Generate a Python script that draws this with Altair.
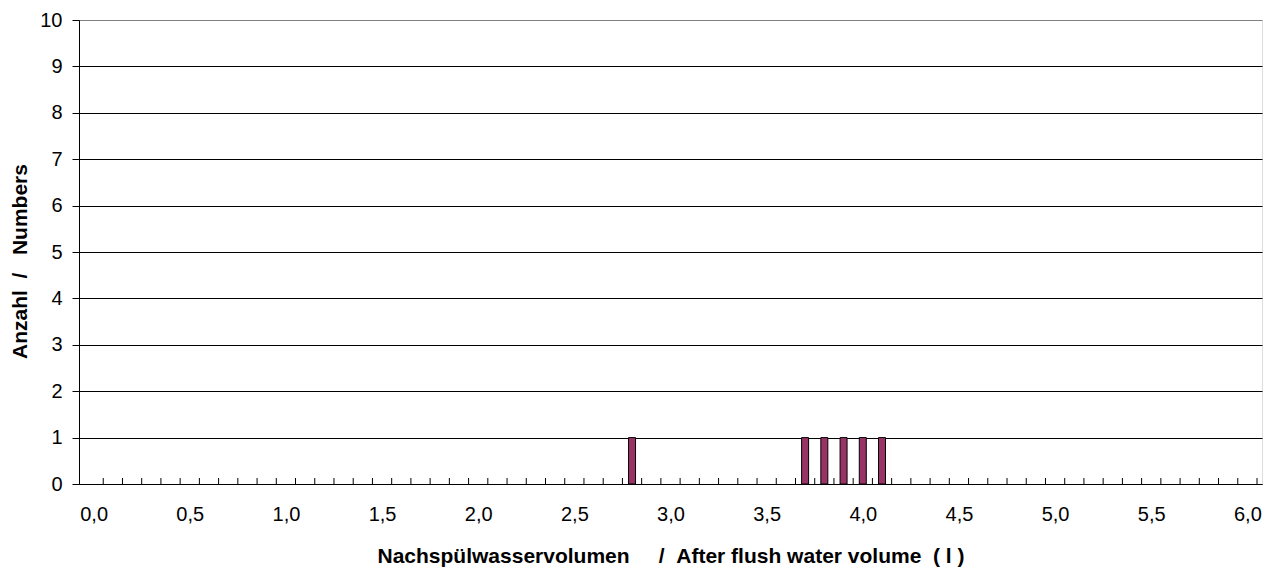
import altair as alt
import pandas as pd

# Data
volumes = [2.8, 3.7, 3.8, 3.9, 4.0, 4.1]
counts = [1, 1, 1, 1, 1, 1]

# Axis structure
x_label_values = [0.0, 0.5, 1.0, 1.5, 2.0, 2.5, 3.0, 3.5, 4.0, 4.5, 5.0, 5.5, 6.0]
y_values = [0, 1, 2, 3, 4, 5, 6, 7, 8, 9, 10]
categories = [round(i * 0.1, 1) for i in range(61)]  # 0,0 ... 6,0 category slots

W, H = 1183, 464
FONT = "Liberation Sans"
NB = "\u00a0"

bars_df = pd.DataFrame({"volume": volumes, "count": counts})
cats_df = pd.DataFrame({"cat": categories})

x_scale = alt.Scale(domain=[-0.05, 6.05], nice=False, zero=False)
y_scale = alt.Scale(domain=[0, 10], nice=False)

x_title = ("Nachspülwasservolumen" + NB * 5 + "/" + NB * 2 + "After flush water volume"
           + NB * 2 + "(" + NB + "l" + NB + ")")
y_title = "Anzahl" + NB * 2 + "/" + NB * 3 + "Numbers"

bars = alt.Chart(bars_df).mark_bar(
    size=7, color="#993366", stroke="black", strokeWidth=1
).encode(
    x=alt.X(
        "volume:Q",
        scale=x_scale,
        axis=alt.Axis(
            values=x_label_values,
            ticks=False,
            tickSize=0,
            grid=False,
            labelExpr="replace(format(datum.value, '.1f'), '.', ',')",
            labelFontSize=20,
            labelFont=FONT,
            labelColor="black",
            labelPadding=20,
            labelFlush=False,
            domainColor="black",
            title=x_title,
            titleFont=FONT,
            titleFontSize=21,
            titleFontWeight="bold",
            titleColor="black",
            titleBaseline="alphabetic",
            titleY=78,
        ),
    ),
    y=alt.Y(
        "count:Q",
        scale=y_scale,
        axis=alt.Axis(
            values=y_values,
            tickSize=7,
            tickColor="black",
            domainColor="black",
            grid=True,
            gridColor=alt.condition("datum.value == 10", alt.value("#808080"), alt.value("black")),
            gridWidth=1,
            labelFontSize=20,
            labelFont=FONT,
            labelColor="black",
            labelPadding=10,
            title=y_title,
            titleFont=FONT,
            titleFontSize=21,
            titleFontWeight="bold",
            titleColor="black",
            titleBaseline="alphabetic",
            titleX=-53,
            titleY=241,
        ),
    ),
)

ticks = alt.Chart(cats_df).transform_calculate(
    boundary="datum.cat + 0.05"
).mark_rule(color="black", strokeWidth=1).encode(
    x=alt.X("boundary:Q", scale=x_scale),
    y=alt.value(H),
    y2=alt.value(H - 6),
)

chart = alt.layer(ticks, bars).properties(
    width=W,
    height=H,
    autosize=alt.AutoSizeParams(type="none"),
    padding={"left": 71, "top": 12, "right": 11, "bottom": 84},
).configure_view(
    stroke="#808080", strokeWidth=1
).configure(background="white")

chart.save("out.html", embed_options={"renderer": "svg", "actions": False})
